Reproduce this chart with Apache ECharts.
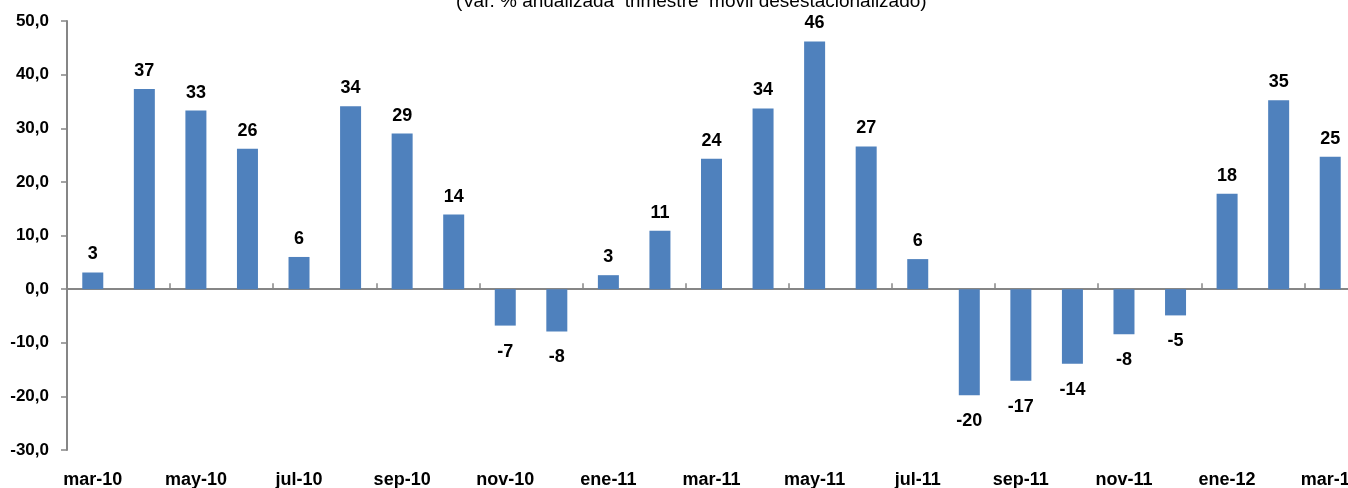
<!DOCTYPE html>
<html>
<head>
<meta charset="utf-8">
<script src="https://cdn.jsdelivr.net/npm/echarts@6/dist/echarts.min.js"></script>
<style>
html,body{margin:0;padding:0;background:#fff;}
#chart{width:1348px;height:488px;}
</style>
</head>
<body>
<div id="chart"></div>
<script>
const categories = ['mar-10','abr-10','may-10','jun-10','jul-10','ago-10','sep-10','oct-10','nov-10','dic-10','ene-11','feb-11','mar-11','abr-11','may-11','jun-11','jul-11','ago-11','sep-11','oct-11','nov-11','dic-11','ene-12','feb-12','mar-12'];
const values = [3.1, 37.3, 33.3, 26.2, 6.0, 34.1, 29.0, 13.9, -6.8, -7.9, 2.6, 10.9, 24.3, 33.7, 46.2, 26.6, 5.6, -19.8, -17.1, -13.9, -8.4, -4.9, 17.8, 35.2, 24.7];
const subtitle = '(Var. % anualizada  trimestre  móvil desestacionalizado)';
const yMin = -30, yMax = 50, yStep = 10;

const chart = echarts.init(document.getElementById('chart'), null, {renderer:'canvas'});
const font = 'Liberation Sans, Arial, sans-serif';
chart.setOption({
  animation: false,
  title: {
    text: subtitle, left: 456, top: -8, padding: 0,
    textStyle: {fontFamily: font, fontSize: 19, fontWeight: 'normal', color: '#000'}
  },
  grid: {left: 67, width: 1289, top: 21, height: 429, containLabel: false, outerBoundsMode: 'none'},
  xAxis: [{
    type: 'category', data: categories, position: 'bottom',
    axisLine: {onZero: true, lineStyle: {color: '#868686', width: 2}},
    axisTick: {show: true, interval: 1, inside: true, length: 6, lineStyle: {color: '#868686', width: 1.5}},
    axisLabel: {show: false}
  }, {
    type: 'category', data: categories, position: 'bottom',
    axisLine: {show: false}, axisTick: {show: false},
    axisLabel: {interval: 1, margin: 21, fontFamily: font, fontSize: 18, fontWeight: 'bold', color: '#000'}
  }],
  yAxis: {
    type: 'value', min: yMin, max: yMax, interval: yStep,
    splitLine: {show: false},
    axisLine: {show: true, lineStyle: {color: '#868686', width: 2}},
    axisTick: {show: true, length: 6, lineStyle: {color: '#868686', width: 1.5}},
    axisLabel: {margin: 18, fontFamily: font, fontSize: 17, fontWeight: 'bold', color: '#000',
      formatter: v => v.toFixed(1).replace('.', ',')}
  },
  series: [{
    type: 'bar', xAxisIndex: 0, barWidth: 21,
    data: values.map(v => v < 0 ? {value: v, label: {position: 'bottom', distance: 17}} : v),
    itemStyle: {color: '#4F81BD'},
    label: {show: true, distance: 9, fontFamily: font, fontSize: 18, fontWeight: 'bold', color: '#000',
      position: 'top',
      formatter: p => String(Math.round(p.value))}
  }]
});
</script>
</body>
</html>
